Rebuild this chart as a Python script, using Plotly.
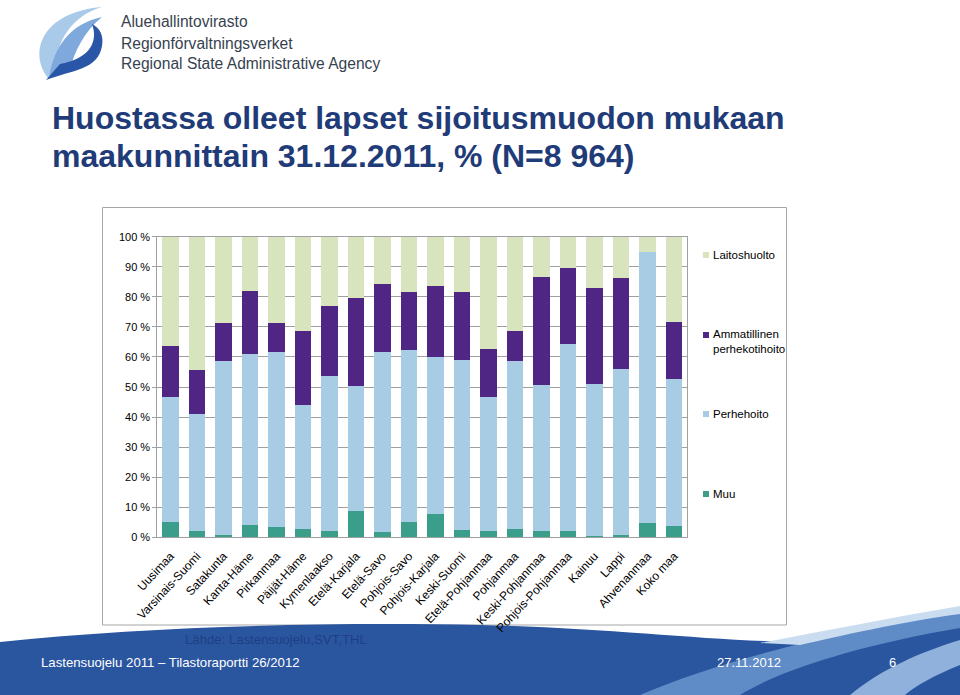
import plotly.graph_objects as go

# ---------------- data ----------------
regions = ["Uusimaa", "Varsinais-Suomi", "Satakunta", "Kanta-Häme", "Pirkanmaa",
           "Päijät-Häme", "Kymenlaakso", "Etelä-Karjala", "Etelä-Savo", "Pohjois-Savo",
           "Pohjois-Karjala", "Keski-Suomi", "Etelä-Pohjanmaa", "Pohjanmaa",
           "Keski-Pohjanmaa", "Pohjois-Pohjanmaa", "Kainuu", "Lappi", "Ahvenanmaa", "Koko maa"]
muu = [5.1, 2.0, 0.7, 4.1, 3.3, 2.8, 2.0, 8.9, 1.8, 5.1, 7.9, 2.3, 2.0, 2.8, 2.0, 2.0, 0.3, 0.7, 4.8, 3.8]
perhehoito = [41.5, 39.0, 57.8, 56.8, 58.3, 41.3, 51.7, 41.4, 59.8, 57.1, 52.0, 56.6, 44.6, 55.7,
              48.6, 62.3, 50.7, 55.4, 90.1, 48.9]
ammatillinen = [16.9, 14.8, 12.7, 21.1, 9.6, 24.6, 23.2, 29.3, 22.8, 19.5, 23.6, 22.8, 15.9, 10.2,
                36.0, 25.3, 32.0, 30.0, 0.0, 19.0]
laitoshuolto = [36.5, 44.2, 28.8, 18.0, 28.8, 31.3, 23.1, 20.4, 15.6, 18.3, 16.5, 18.3, 37.5, 31.3,
                13.4, 10.4, 17.0, 13.9, 5.1, 28.3]
series_names = ["Muu", "Perhehoito", "Ammatillinen perhekotihoito", "Laitoshuolto"]
legend_labels = ["Laitoshuolto", "Ammatillinen<br>perhekotihoito", "Perhehoito", "Muu"]
y_tickvals = [0, 10, 20, 30, 40, 50, 60, 70, 80, 90, 100]
y_ticktext = ["0 %", "10 %", "20 %", "30 %", "40 %", "50 %", "60 %", "70 %", "80 %", "90 %", "100 %"]

# ---------------- style ----------------
W, H = 960, 695
FONT = "Liberation Sans, Arial, sans-serif"
col = {"Muu": "#3A9E8A", "Perhehoito": "#A8CCE4",
       "Ammatillinen perhekotihoito": "#4F2683", "Laitoshuolto": "#D7E4BD"}


def px(x):
    return x / W


def py(y):
    return 1 - y / H


def path(pts_str):
    out = []
    for tok in pts_str.split():
        if "," in tok:
            a, b = tok.split(",")
            out.append(f"{px(float(a)):.5f},{py(float(b)):.5f}")
        else:
            out.append(tok)
    return " ".join(out)


fig = go.Figure()
for name, vals in zip(series_names, [muu, perhehoito, ammatillinen, laitoshuolto]):
    fig.add_trace(go.Bar(x=regions, y=vals, name=name, marker_color=col[name],
                         marker_line_width=0, showlegend=False))

shapes = []
shapes.append(dict(type="rect", xref="paper", yref="paper", x0=px(102.5), x1=px(786.5),
                   y0=py(625), y1=py(207.5), line=dict(color="#A6A6A6", width=1),
                   fillcolor="white", layer="below"))
# footer band
shapes.append(dict(type="path", xref="paper", yref="paper", layer="below",
                   path=path("M 0,642 C 150,626 330,622 480,625 C 620,628 720,643 820,642 "
                             "C 880,640 930,628 960,612 L 960,695 L 0,695 Z"),
                   fillcolor="#2A56A0", line=dict(width=0)))
shapes.append(dict(type="path", xref="paper", yref="paper", layer="below",
                   path=path("M 640,695 C 720,660 840,632 960,610 L 960,628 "
                             "C 860,645 780,670 740,695 Z"),
                   fillcolor="#5F8BC6", line=dict(width=0)))
shapes.append(dict(type="path", xref="paper", yref="paper", layer="below",
                   path=path("M 760,643 C 830,630 900,616 960,606 L 960,614 "
                             "C 900,622 840,636 800,645 Z"),
                   fillcolor="#C9DCF0", line=dict(width=0)))
shapes.append(dict(type="path", xref="paper", yref="paper", layer="below",
                   path=path("M 850,695 C 880,670 920,652 960,640 L 960,665 "
                             "C 935,675 915,686 905,695 Z"),
                   fillcolor="#8FB1DC", line=dict(width=0)))
# logo
shapes.append(dict(type="path", xref="paper", yref="paper", layer="below",
                   path=path("M 48,78 C 28,52 42,12 102,7 C 72,16 56,40 54,74 Z"),
                   fillcolor="#A9CBE9", line=dict(width=0)))
shapes.append(dict(type="path", xref="paper", yref="paper", layer="below",
                   path=path("M 49,78 C 54,46 70,24 102,17 C 84,32 74,52 70,70 Z"),
                   fillcolor="#7FA9DC", line=dict(width=0)))
shapes.append(dict(type="path", xref="paper", yref="paper", layer="below",
                   path=path("M 46,80 C 72,70 98,70 102,46 C 104,36 100,28 92,24 "
                             "C 98,40 92,58 60,64 Z"),
                   fillcolor="#2A56A8", line=dict(width=0)))

# legend squares
leg_y = [255, 335, 414, 494]
leg_cols = [col["Laitoshuolto"], col["Ammatillinen perhekotihoito"], col["Perhehoito"], col["Muu"]]
for yy, cc in zip(leg_y, leg_cols):
    shapes.append(dict(type="rect", xref="paper", yref="paper", x0=px(703), x1=px(709),
                       y0=py(yy + 3), y1=py(yy - 3), fillcolor=cc, line=dict(width=0)))

ann = []


def text(x, y, t, size, color, xanchor="left"):
    ann.append(dict(x=px(x), y=py(y), xref="paper", yref="paper", text=t, showarrow=False,
                    xanchor=xanchor, yanchor="middle", align="left",
                    font=dict(family=FONT, size=size, color=color)))


for yy, t in zip([22, 43, 63], ["Aluehallintovirasto", "Regionförvaltningsverket",
                                "Regional State Administrative Agency"]):
    text(119, yy, t, 15.6, "#374150")
text(50, 118, "<b>Huostassa olleet lapset sijoitusmuodon mukaan</b>", 32, "#1F3B78")
text(50, 156, "<b>maakunnittain 31.12.2011, % (N=8 964)</b>", 32, "#1F3B78")
leg_text_y = [255, 341, 414, 494]
for yy, t in zip(leg_text_y, legend_labels):
    text(711, yy, t, 11.5, "#000000")
text(183, 639, "Lähde: Lastensuojelu,SVT,THL", 13.2, "#1E3F85")
text(39, 662, "Lastensuojelu 2011 – Tilastoraportti 26/2012", 13.2, "white")
text(715, 662, "27.11.2012", 13, "white")
text(887, 662, "6", 13, "white")

fig.update_layout(
    width=W, height=H, autosize=False,
    margin=dict(l=0, r=0, t=0, b=0, pad=0, autoexpand=False),
    paper_bgcolor="white", plot_bgcolor="white",
    barmode="stack", bargap=0.385,
    font=dict(family=FONT, size=11, color="#000000"),
    shapes=shapes, annotations=ann,
    xaxis=dict(domain=[px(157.3), px(687.3)], range=[-0.5, len(regions) - 0.5],
               tickangle=-47, showgrid=False, automargin=False, ticklabelstandoff=6,
               showline=True, linecolor="#A0A0A0", linewidth=1, mirror=True,
               ticks="", tickfont=dict(family=FONT, size=12, color="#000000"),
               fixedrange=True),
    yaxis=dict(domain=[py(537.3), py(236.7)], range=[0, 100], tickvals=y_tickvals,
               ticktext=y_ticktext, showgrid=True, gridcolor="#A0A0A0", gridwidth=1,
               showline=True, linecolor="#A0A0A0", linewidth=1, mirror=True,
               ticks="outside", ticklen=4, tickcolor="#A0A0A0", automargin=False,
               tickfont=dict(family=FONT, size=11, color="#000000"), zeroline=False,
               fixedrange=True),
)

fig.write_html("out.html", config={"displayModeBar": False},
               post_script="document.body.style.margin='0';document.body.style.overflow='hidden';")
